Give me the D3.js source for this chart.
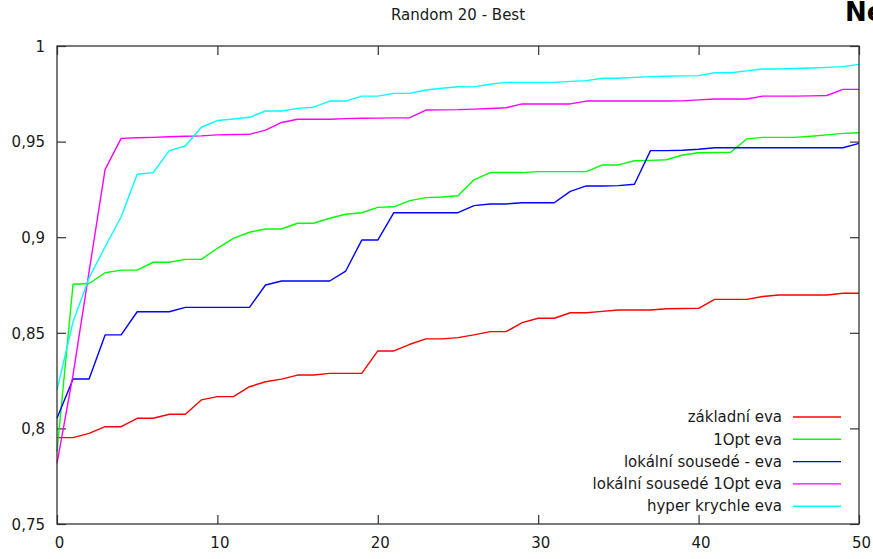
<!DOCTYPE html>
<html>
<head>
<meta charset="utf-8">
<script src="https://cdn.jsdelivr.net/npm/d3@7"></script>
<style>
  body { margin: 0; background: #fff; }
  text { font-family: "DejaVu Sans", Verdana, sans-serif; }
</style>
</head>
<body>
<svg id="chart" width="873" height="559"></svg>
<script>

const title = 'Random 20 - Best';
const generations = d3.range(0, 51);
const yTicks = [0.75, 0.8, 0.85, 0.9, 0.95, 1];
const xTicks = [0, 10, 20, 30, 40, 50];

const seriesNames = ['základní eva', '1Opt eva', 'lokální sousedé - eva', 'lokální sousedé 1Opt eva', 'hyper krychle eva'];
const seriesColors = ['#ff0000', '#00ff00', '#0000ff', '#ff00ff', '#00ffff'];

const zakladni = [0.7952, 0.7952, 0.7974, 0.8009, 0.8009, 0.8053, 0.8053, 0.8074, 0.8074, 0.8149,
  0.8166, 0.8166, 0.8218, 0.8244, 0.8258, 0.8279, 0.8279, 0.8288, 0.8288, 0.8288,
  0.8405, 0.8405, 0.8440, 0.8468, 0.8468, 0.8475, 0.8489, 0.8506, 0.8506, 0.8553,
  0.8576, 0.8576, 0.8605, 0.8605, 0.8612, 0.8619, 0.8619, 0.8619, 0.8626, 0.8627,
  0.8628, 0.8675, 0.8675, 0.8675, 0.8690, 0.8698, 0.8698, 0.8698, 0.8698, 0.8707, 0.8707];

const opt1 = [0.7878, 0.8754, 0.8758, 0.8814, 0.8828, 0.8828, 0.8869, 0.8869, 0.8884, 0.8884,
  0.8942, 0.8994, 0.9026, 0.9043, 0.9043, 0.9073, 0.9073, 0.9099, 0.9120, 0.9128,
  0.9156, 0.9159, 0.9191, 0.9207, 0.9210, 0.9217, 0.9300, 0.9338, 0.9338, 0.9338,
  0.9343, 0.9343, 0.9343, 0.9343, 0.9378, 0.9378, 0.9400, 0.9402, 0.9405, 0.9430,
  0.9442, 0.9443, 0.9444, 0.9514, 0.9522, 0.9522, 0.9522, 0.9528, 0.9535, 0.9543, 0.9546];

const lokalni = [0.8053, 0.8258, 0.8258, 0.8489, 0.8489, 0.8610, 0.8610, 0.8610, 0.8633, 0.8633,
  0.8633, 0.8633, 0.8633, 0.8750, 0.8771, 0.8771, 0.8771, 0.8771, 0.8823, 0.8985,
  0.8985, 0.9128, 0.9128, 0.9128, 0.9128, 0.9128, 0.9165, 0.9174, 0.9174, 0.9180,
  0.9180, 0.9180, 0.9240, 0.9268, 0.9268, 0.9270, 0.9277, 0.9453, 0.9453, 0.9455,
  0.9460, 0.9468, 0.9468, 0.9468, 0.9468, 0.9468, 0.9468, 0.9468, 0.9468, 0.9468, 0.9491];

const lokalni1Opt = [0.7817, 0.8280, 0.8820, 0.9355, 0.9517, 0.9520, 0.9522, 0.9525, 0.9528, 0.9530,
  0.9535, 0.9537, 0.9538, 0.9560, 0.9600, 0.9617, 0.9617, 0.9617, 0.9620, 0.9622,
  0.9623, 0.9624, 0.9625, 0.9665, 0.9666, 0.9667, 0.9670, 0.9673, 0.9677, 0.9697,
  0.9697, 0.9697, 0.9697, 0.9712, 0.9712, 0.9712, 0.9712, 0.9712, 0.9712, 0.9713,
  0.9718, 0.9723, 0.9723, 0.9723, 0.9738, 0.9738, 0.9738, 0.9739, 0.9741, 0.9773, 0.9773];

const hyperKrychle = [0.8200, 0.8558, 0.8787, 0.8950, 0.9107, 0.9329, 0.9338, 0.9453, 0.9477, 0.9575,
  0.9610, 0.9618, 0.9627, 0.9660, 0.9660, 0.9674, 0.9680, 0.9712, 0.9712, 0.9738,
  0.9738, 0.9752, 0.9752, 0.9770, 0.9779, 0.9787, 0.9786, 0.9800, 0.9810, 0.9810,
  0.9810, 0.9810, 0.9815, 0.9819, 0.9831, 0.9831, 0.9836, 0.9840, 0.9842, 0.9844,
  0.9845, 0.9860, 0.9860, 0.9870, 0.9880, 0.9880, 0.9882, 0.9885, 0.9888, 0.9892, 0.9904];

const allSeries = [zakladni, opt1, lokalni, lokalni1Opt, hyperKrychle];

const svg = d3.select('#chart');
const margin = { top: 46, right: 14, bottom: 35, left: 57 };
const width = +svg.attr('width');
const height = +svg.attr('height');
const innerWidth = width - margin.left - margin.right;
const innerHeight = height - margin.top - margin.bottom;

const x = d3.scaleLinear().domain([0, 50]).range([0, innerWidth]);
const y = d3.scaleLinear().domain([0.75, 1]).range([innerHeight, 0]);

const commaFmt = d => d3.format('.2~f')(d).replace('.', ',');

const g = svg.append('g')
    .attr('transform', `translate(${margin.left}, ${margin.top})`);

// title
svg.append('text')
    .attr('x', margin.left + innerWidth / 2)
    .attr('y', 20)
    .attr('text-anchor', 'middle')
    .attr('font-size', 15)
    .attr('fill', '#1a1a1a')
    .text(title);

// cut off heading at top right (it is cut off in the original too)
svg.append('text')
    .attr('x', 845)
    .attr('y', 21)
    .attr('font-family', '"Liberation Sans", Arial, sans-serif')
    .attr('font-weight', 'bold')
    .attr('font-size', 26)
    .attr('fill', '#000')
    .text('Ne');

// inward ticks on all four sides (gnuplot mirror)
const tickLen = 9;
const axisStyle = sel => {
  sel.select('.domain').remove();
  sel.selectAll('.tick line').attr('stroke', '#333').attr('stroke-width', 1.2);
  sel.selectAll('.tick text').attr('fill', '#1a1a1a').attr('font-size', 15)
      .attr('font-family', '"DejaVu Sans", Verdana, sans-serif');
};
const noLabels = sel => {
  sel.select('.domain').remove();
  sel.selectAll('.tick text').remove();
  sel.selectAll('.tick line').attr('stroke', '#333').attr('stroke-width', 1.2);
};

g.append('g')
    .attr('transform', `translate(0, ${innerHeight})`)
    .call(d3.axisBottom(x).tickValues(xTicks).tickSize(-tickLen).tickPadding(13).tickFormat(d3.format('d')))
    .call(axisStyle)
    .call(a => a.selectAll('.tick text').attr('dx', 2));

g.append('g')
    .call(d3.axisTop(x).tickValues(xTicks).tickSize(-tickLen))
    .call(noLabels);

g.append('g')
    .call(d3.axisLeft(y).tickValues(yTicks).tickSize(-tickLen).tickPadding(12).tickFormat(commaFmt))
    .call(axisStyle)
    .call(a => a.selectAll('.tick text').attr('dy', '0.35em'));

g.append('g')
    .attr('transform', `translate(${innerWidth}, 0)`)
    .call(d3.axisRight(y).tickValues(yTicks).tickSize(-tickLen))
    .call(noLabels);

// series
const line = d3.line()
    .x((d, i) => x(generations[i]))
    .y(d => y(d));

g.selectAll('.series')
    .data(allSeries)
    .enter()
    .append('path')
    .attr('class', 'series')
    .attr('d', line)
    .attr('fill', 'none')
    .attr('stroke', (d, i) => seriesColors[i])
    .attr('stroke-width', 1.4)
    .attr('stroke-linejoin', 'round');

// frame
g.append('rect')
    .attr('width', innerWidth)
    .attr('height', innerHeight)
    .attr('fill', 'none')
    .attr('stroke', '#333')
    .attr('stroke-width', 1.3);

// legend
const legend = g.append('g')
    .attr('transform', `translate(${782 - margin.left}, ${417 - margin.top})`);

const rows = legend.selectAll('g')
    .data(seriesNames)
    .enter()
    .append('g')
    .attr('transform', (d, i) => `translate(0, ${i * 22.3})`);

rows.append('text')
    .attr('text-anchor', 'end')
    .attr('dy', '0.35em')
    .attr('font-size', 15)
    .attr('fill', '#1a1a1a')
    .text(d => d);

rows.append('line')
    .attr('x1', 11)
    .attr('x2', 59)
    .attr('stroke', (d, i) => seriesColors[i])
    .attr('stroke-width', 1.4);

</script>
</body>
</html>
